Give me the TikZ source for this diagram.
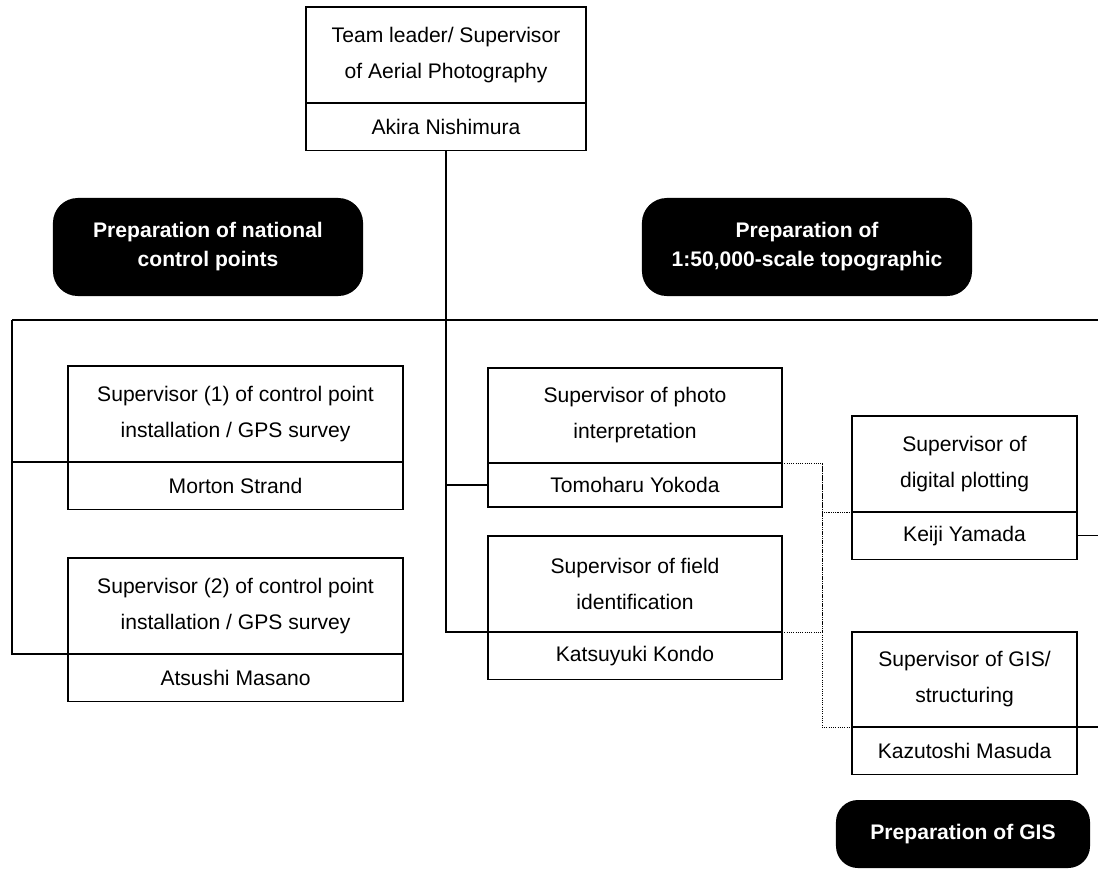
\documentclass[tikz,border=0pt]{standalone}
\usepackage{fontspec}
\setmainfont{Liberation Sans}
\usetikzlibrary{positioning}

\begin{document}
\begin{tikzpicture}[
        x=0.025cm, y=-0.025cm,
        role/.style={
            rectangle, draw=black, line width=0.9pt, outer sep=0pt, inner sep=0pt,
            minimum height=2.4cm, align=center,
            font=\fontsize{15}{25.6}\selectfont
        },
        person/.style={
            rectangle, draw=black, line width=0.9pt, outer sep=0pt, inner sep=0pt,
            minimum height=1.18cm, font=\fontsize{15}{18}\selectfont
        },
        phase/.style={
            rectangle, rounded corners=0.62cm, fill=black, text=white,
            minimum height=2.45cm, align=center,
            font=\bfseries\fontsize{15}{20.6}\selectfont
        },
        link/.style={line width=0.9pt},
        dotlink/.style={line width=0.7pt, dash pattern=on 0.8pt off 0.8pt},
    ]

    \useasboundingbox (0,0) rectangle (1098,871);

    % ── Team leader ──
    \node[role, minimum width=7cm, anchor=north west] (lead) at (306,7)
        {Team leader/ Supervisor\\of Aerial Photography};
    \node[person, minimum width=7cm, below=0pt of lead] (leadname) {Akira Nishimura};

    % ── Phases ──
    \node[phase, minimum width=7.75cm] (natcp) at (208,247)
        {Preparation of national\\control points};
    \node[phase, minimum width=8.25cm] (topo) at (807,247)
        {Preparation of\\1:50,000-scale topographic};
    \node[phase, minimum width=6.35cm, minimum height=1.7cm, rounded corners=0.55cm]
        (gisphase) at (963,834) {Preparation of GIS};

    % ── Control points ──
    \node[role, minimum width=8.375cm, anchor=north west] (gps1) at (68,366)
        {Supervisor (1) of control point\\installation / GPS survey};
    \node[person, minimum width=8.375cm, below=0pt of gps1] (strand) {Morton Strand};
    \node[role, minimum width=8.375cm, anchor=north west] (gps2) at (68,558)
        {Supervisor (2) of control point\\installation / GPS survey};
    \node[person, minimum width=8.375cm, below=0pt of gps2] (masano) {Atsushi Masano};

    % ── Topographic mapping ──
    \node[role, minimum width=7.35cm, minimum height=2.375cm, anchor=north west] (photo) at (488,368)
        {Supervisor of photo\\interpretation};
    \node[person, minimum width=7.35cm, minimum height=1.1cm, below=0pt of photo] (yokoda) {Tomoharu Yokoda};
    \node[role, minimum width=7.35cm, anchor=north west] (field) at (488,536)
        {Supervisor of field\\identification};
    \node[person, minimum width=7.35cm, below=0pt of field] (kondo) {Katsuyuki Kondo};

    \node[role, minimum width=5.625cm, anchor=north west] (plot) at (852,416)
        {Supervisor of\\digital plotting};
    \node[person, minimum width=5.625cm, below=0pt of plot] (yamada) {Keiji Yamada};
    \node[role, minimum width=5.625cm, minimum height=2.375cm, anchor=north west] (gis) at (852,632)
        {Supervisor of GIS/\\structuring};
    \node[person, minimum width=5.625cm, below=0pt of gis] (masuda) {Kazutoshi Masuda};

    % ── Solid links ──
    \coordinate (busL) at (12,320);
    \coordinate (busR) at (1098,320);
    \draw[link] (busL) -- (busR);
    \draw[link] (leadname.south) |- (kondo.north west);
    \draw[link] (yokoda.west) -- (yokoda.west -| leadname.south);
    \draw[link] (busL) |- (masano.north west);
    \draw[link] (strand.north west) -- (strand.north west -| busL);
    \draw[link] (yamada.east) -- (yamada.east -| busR);
    \draw[link] (masuda.north east) -- (masuda.north east -| busR);

    % ── Dotted links ──
    \draw[dotlink] (yokoda.north east) -- ++(40,0) coordinate (dotbus) |- (masuda.north west);
    \draw[dotlink] (kondo.north east) -| (dotbus);
    \draw[dotlink] (yamada.north west) -| (dotbus);

\end{tikzpicture}
\end{document}
